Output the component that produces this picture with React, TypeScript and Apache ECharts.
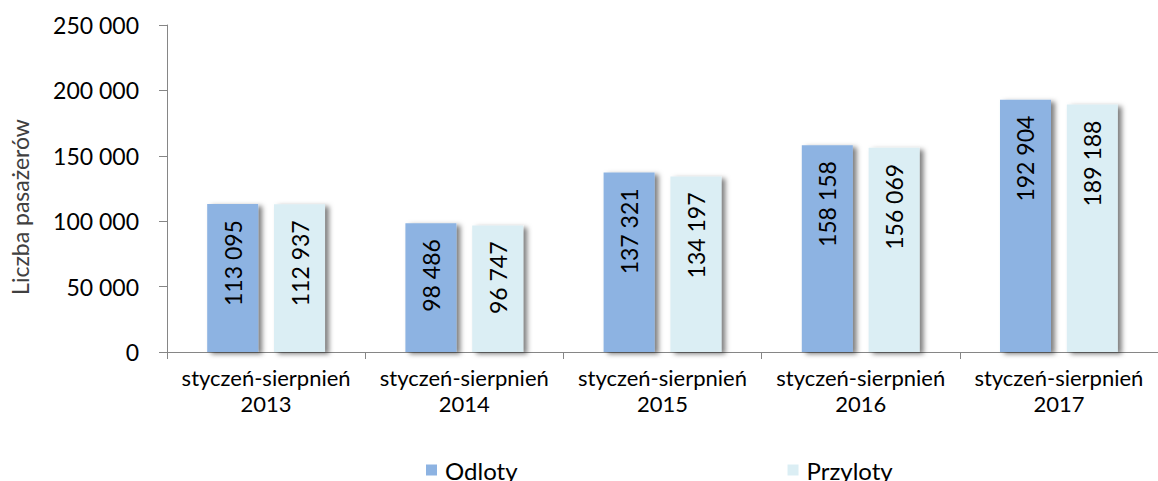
import React, { useEffect, useRef } from "react";
import * as echarts from "echarts";

const years = ["2013", "2014", "2015", "2016", "2017"];
const periodLabel = "styczeń-sierpnień";
const categories = years.map((y) => `${periodLabel}\n${y}`);
const odloty = [113095, 98486, 137321, 158158, 192904];
const przyloty = [112937, 96747, 134197, 156069, 189188];
const seriesNames = ["Odloty", "Przyloty"];
const yTitle = "Liczba pasażerów";

const fmt = (v: number) =>
  String(Math.round(v)).replace(/\B(?=(\d{3})+(?!\d))/g, " ");

export default function App() {
  const ref = useRef<HTMLDivElement>(null);
  useEffect(() => {
    if (!ref.current) return;
    const chart = echarts.init(ref.current, null, { renderer: "svg" });
    const labelFont = "Lato, 'Open Sans', sans-serif";
    const barLabel = {
      show: true,
      position: "insideTop" as const,
      rotate: 90,
      align: "right" as const,
      verticalAlign: "middle" as const,
      distance: 16,
      fontFamily: labelFont,
      fontSize: 23,
      color: "#000",
      formatter: (p: any) => fmt(p.value),
    };
    const shadow = {
      shadowColor: "rgba(0,0,0,0.5)",
      shadowBlur: 5,
      shadowOffsetX: 4,
      shadowOffsetY: 2,
    };
    chart.setOption({
      animation: false,
      grid: { left: 167, top: 25, width: 999, height: 327, containLabel: false },
      legend: {
        data: seriesNames,
        left: 421,
        top: 453,
        itemWidth: 11,
        itemHeight: 11,
        itemGap: 270,
        icon: "rect",
        textStyle: { fontFamily: labelFont, fontSize: 24, color: "#000", padding: [0, 0, 0, 3] },
      },
      graphic: [
        {
          type: "text",
          x: 20,
          y: 207,
          rotation: Math.PI / 2,
          style: {
            text: yTitle,
            fontFamily: labelFont,
            fontSize: 23,
            fill: "#404040",
            textAlign: "center",
            textVerticalAlign: "middle",
          },
        },
      ],
      xAxis: {
        type: "category",
        data: categories,
        axisLine: { lineStyle: { color: "#868686", width: 1 } },
        axisTick: { show: true, length: 7, lineStyle: { color: "#868686" } },
        axisLabel: {
          fontFamily: labelFont,
          fontSize: 22,
          color: "#000",
          lineHeight: 26,
          margin: 12,
          interval: 0,
        },
      },
      yAxis: {
        type: "value",
        min: 0,
        max: 250000,
        interval: 50000,
        splitLine: { show: false },
        axisLine: { show: true, lineStyle: { color: "#868686", width: 1 } },
        axisTick: { show: true, length: 8, lineStyle: { color: "#868686" } },
        axisLabel: {
          fontFamily: labelFont,
          fontSize: 23,
          color: "#000",
          margin: 28,
          formatter: (v: number) => fmt(v),
        },
      },
      series: [
        {
          name: seriesNames[0],
          type: "bar",
          data: odloty,
          barWidth: 51,
          barGap: "31%",
          itemStyle: { color: "#8DB3E2", ...shadow },
          label: barLabel,
        },
        {
          name: seriesNames[1],
          type: "bar",
          data: przyloty,
          barWidth: 51,
          itemStyle: { color: "#DBEEF4", ...shadow },
          label: barLabel,
        },
      ],
    });
    return () => chart.dispose();
  }, []);
  return (
    <div
      ref={ref}
      style={{ position: "fixed", left: 0, top: 0, width: 1158, height: 481, background: "#fff" }}
    />
  );
}
